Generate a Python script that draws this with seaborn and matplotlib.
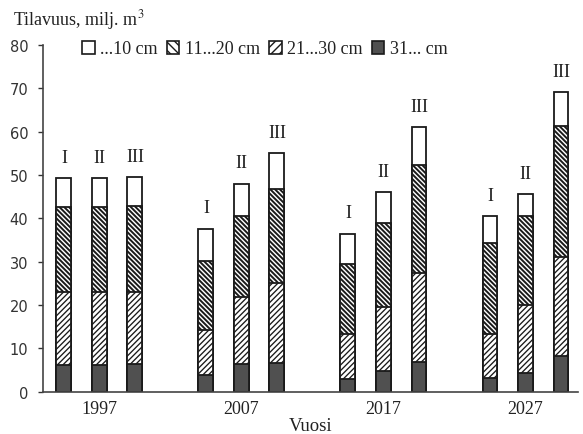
import numpy as np
import pandas as pd
import matplotlib
matplotlib.use("Agg")
import matplotlib.pyplot as plt
from matplotlib.patches import Patch
import seaborn as sns

# ---- data (milj. m3) ----
years = ["1997", "2007", "2017", "2027"]
scenarios = ["I", "II", "III"]
# segment values per year (I, II, III)
d_upto10 = [[6.6, 6.6, 6.6], [7.4, 7.5, 8.2], [7.0, 7.0, 8.6], [6.2, 5.0, 7.7]]
d_11_20 = [[19.8, 19.8, 20.0], [15.9, 18.7, 21.8], [16.2, 19.4, 24.9], [21.1, 20.6, 30.4]]
d_21_30 = [[16.7, 16.7, 16.5], [10.4, 15.3, 18.3], [10.4, 14.8, 20.6], [10.1, 15.8, 22.8]]
d_31plus = [[6.2, 6.2, 6.4], [3.9, 6.5, 6.7], [2.9, 4.8, 6.9], [3.1, 4.2, 8.2]]
legend_labels = ["...10 cm", "11...20 cm", "21...30 cm", "31... cm"]

sns.set_style("ticks")
plt.rcParams["font.family"] = ["Liberation Serif", "DejaVu Serif"]
plt.rcParams["mathtext.fontset"] = "stix"
plt.rcParams["hatch.linewidth"] = 1.0
plt.rcParams["hatch.color"] = "#1a1a1a"

H_BACK = "\\" * 7
H_FWD = "/" * 6

rows = []
for gi, y in enumerate(years):
    for si, s in enumerate(scenarios):
        a = d_31plus[gi][si]
        b = a + d_21_30[gi][si]
        c = b + d_11_20[gi][si]
        t = c + d_upto10[gi][si]
        rows.append(dict(year=y, scen=s, pos=gi * 4 + si, c31=a, c21=b, c11=c, total=t))
df = pd.DataFrame(rows)

fig = plt.figure(figsize=(5.83, 4.35), dpi=100)
ax = fig.add_axes([43 / 583, 1 - 392.7 / 435, (578 - 43) / 583, (392.7 - 46) / 435])

edge = "#1a1a1a"
layers = [
    ("total", "white", "", 1.0),
    ("c11", "white", H_BACK, 1.4),
    ("c21", "white", H_FWD, 0.95),
    ("c31", "#505050", "", 1.0),
]
for col, fc, h, hlw in layers:
    with plt.rc_context({"hatch.linewidth": hlw}):
        sns.barplot(data=df, x="pos", y=col, native_scale=True, width=0.42,
                    color=fc, saturation=1, errorbar=None, edgecolor=edge,
                    linewidth=1.3, hatch=h, ax=ax)

for _, r in df.iterrows():
    ax.annotate(r["scen"], (r["pos"], r["total"]), xytext=(0, 9),
                textcoords="offset points", ha="center", va="bottom",
                fontsize=13, color="#222222")

ax.set_xlim(-0.59, 14.48)
ax.set_ylim(0, 80)
ax.set_yticks(np.arange(0, 81, 10))
mid = df[df["scen"] == "II"]["pos"].values
ax.set_xticks(mid)
ax.set_xticklabels(years, fontsize=13, color="#222222")
ax.tick_params(axis="x", length=0, pad=6)
ax.tick_params(axis="y", length=3.5, width=1, direction="out", pad=7,
               colors="#333333", labelsize=10.5)
for lab in ax.get_yticklabels():
    lab.set_fontfamily("DejaVu Sans")
ax.set_xlabel("Vuosi", fontsize=13.5, color="#222222", labelpad=0)
ax.set_ylabel("")
sns.despine(ax=ax)
for sp in ["left", "bottom"]:
    ax.spines[sp].set_color("#444444")
    ax.spines[sp].set_linewidth(1.2)

fig.text(13 / 583, 1 - 25 / 435, "Tilavuus, milj. m$^3$", fontsize=13,
         va="baseline", ha="left", color="#222222")

with plt.rc_context({"hatch.linewidth": 1.3}):
    handles = [
        Patch(facecolor="white", edgecolor=edge, linewidth=1.2),
        Patch(facecolor="white", edgecolor=edge, linewidth=1.2, hatch="\\" * 4),
        Patch(facecolor="white", edgecolor=edge, linewidth=1.2, hatch="/" * 4),
        Patch(facecolor="#505050", edgecolor=edge, linewidth=1.2),
    ]
fig.legend(handles, legend_labels, loc="center left",
           bbox_to_anchor=(82 / 583, 1 - 50 / 435), ncol=4, frameon=False,
           handlelength=0.7, handleheight=0.7, handletextpad=0.3,
           columnspacing=0.5, borderpad=0, borderaxespad=0, fontsize=13,
           labelcolor="#222222")

fig.savefig("out.png", dpi=100)
